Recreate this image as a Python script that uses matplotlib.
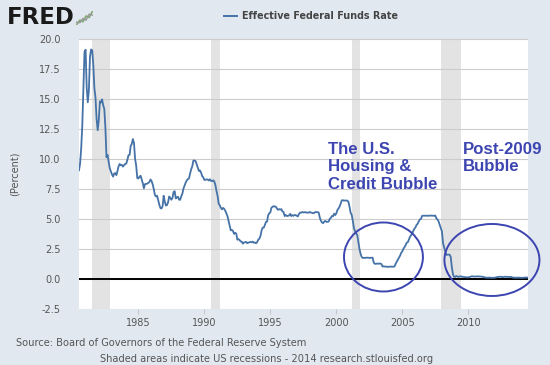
import numpy as np
import matplotlib
matplotlib.use("Agg")
import matplotlib.pyplot as plt
from matplotlib.patches import Ellipse

# Effective Federal Funds Rate, monthly, Jul 1980 - Jul 2014 (percent)
rate_1980 = [9.03, 9.61, 10.87, 12.81, 15.85, 18.90]
rate_1981 = [19.08, 15.93, 14.70, 15.72, 18.52, 19.10, 19.04, 17.82, 15.87, 15.08, 13.31, 12.37]
rate_1982 = [13.22, 14.78, 14.68, 14.94, 14.45, 14.15, 12.59, 10.12, 10.31, 9.71, 9.20, 8.95]
rate_1983 = [8.68, 8.51, 8.77, 8.80, 8.63, 8.98, 9.37, 9.56, 9.45, 9.48, 9.34, 9.47]
rate_1984 = [9.56, 9.59, 9.91, 10.29, 10.32, 11.06, 11.23, 11.64, 11.30, 9.99, 9.43, 8.38]
rate_1985 = [8.35, 8.50, 8.58, 8.27, 7.97, 7.53, 7.88, 7.90, 7.92, 7.99, 8.05, 8.27]
rate_1986 = [8.14, 7.86, 7.48, 6.99, 6.85, 6.92, 6.56, 6.17, 5.89, 5.85, 6.04, 6.91]
rate_1987 = [6.43, 6.10, 6.13, 6.37, 6.85, 6.73, 6.58, 6.73, 7.22, 7.29, 6.69, 6.77]
rate_1988 = [6.83, 6.58, 6.58, 6.87, 7.09, 7.51, 7.75, 8.01, 8.19, 8.30, 8.35, 8.76]
rate_1989 = [9.12, 9.36, 9.85, 9.84, 9.81, 9.53, 9.24, 8.99, 9.02, 8.84, 8.55, 8.45]
rate_1990 = [8.23, 8.24, 8.28, 8.26, 8.18, 8.29, 8.15, 8.13, 8.20, 8.11, 7.81, 7.31]
rate_1991 = [6.91, 6.25, 6.12, 5.91, 5.78, 5.90, 5.82, 5.66, 5.45, 5.21, 4.81, 4.43]
rate_1992 = [4.03, 4.06, 3.98, 3.73, 3.82, 3.76, 3.25, 3.30, 3.22, 3.10, 3.09, 2.92]
rate_1993 = [3.02, 3.03, 3.07, 2.96, 3.00, 3.04, 3.06, 3.03, 3.09, 2.99, 3.02, 2.96]
rate_1994 = [3.05, 3.25, 3.34, 3.56, 4.01, 4.25, 4.26, 4.47, 4.73, 4.76, 5.29, 5.45]
rate_1995 = [5.53, 5.92, 5.98, 6.05, 6.01, 6.00, 5.85, 5.74, 5.80, 5.76, 5.80, 5.60]
rate_1996 = [5.56, 5.22, 5.31, 5.22, 5.24, 5.27, 5.40, 5.22, 5.30, 5.24, 5.31, 5.29]
rate_1997 = [5.25, 5.19, 5.39, 5.51, 5.50, 5.56, 5.52, 5.54, 5.54, 5.50, 5.52, 5.50]
rate_1998 = [5.56, 5.51, 5.49, 5.45, 5.49, 5.56, 5.54, 5.55, 5.51, 5.07, 4.83, 4.68]
rate_1999 = [4.63, 4.76, 4.81, 4.74, 4.74, 4.76, 4.99, 5.07, 5.22, 5.20, 5.42, 5.30]
rate_2000 = [5.45, 5.73, 5.85, 6.02, 6.27, 6.53, 6.54, 6.50, 6.52, 6.51, 6.51, 6.40]
rate_2001 = [5.98, 5.49, 5.31, 4.80, 4.21, 3.97, 3.77, 3.65, 3.07, 2.49, 2.09, 1.82]
rate_2002 = [1.73, 1.74, 1.73, 1.75, 1.75, 1.75, 1.73, 1.74, 1.75, 1.75, 1.34, 1.24]
rate_2003 = [1.24, 1.26, 1.25, 1.26, 1.26, 1.22, 1.01, 1.03, 1.01, 1.01, 1.00, 0.98]
rate_2004 = [1.00, 1.01, 1.00, 1.00, 1.00, 1.03, 1.26, 1.43, 1.61, 1.76, 1.93, 2.16]
rate_2005 = [2.28, 2.50, 2.63, 2.79, 3.00, 3.04, 3.26, 3.50, 3.62, 3.78, 4.00, 4.16]
rate_2006 = [4.29, 4.49, 4.59, 4.79, 4.94, 4.99, 5.24, 5.25, 5.25, 5.25, 5.25, 5.24]
rate_2007 = [5.25, 5.26, 5.26, 5.25, 5.25, 5.25, 5.26, 5.02, 4.94, 4.76, 4.49, 4.24]
rate_2008 = [3.94, 2.98, 2.61, 2.28, 1.98, 2.00, 2.01, 2.00, 1.81, 0.97, 0.39, 0.16]
rate_2009 = [0.15, 0.22, 0.18, 0.15, 0.18, 0.21, 0.16, 0.16, 0.15, 0.12, 0.12, 0.12]
rate_2010 = [0.11, 0.13, 0.16, 0.20, 0.20, 0.18, 0.18, 0.19, 0.19, 0.19, 0.19, 0.18]
rate_2011 = [0.17, 0.16, 0.14, 0.10, 0.09, 0.09, 0.07, 0.10, 0.08, 0.07, 0.08, 0.07]
rate_2012 = [0.08, 0.10, 0.13, 0.14, 0.16, 0.16, 0.16, 0.13, 0.14, 0.16, 0.16, 0.16]
rate_2013 = [0.14, 0.15, 0.14, 0.15, 0.11, 0.09, 0.09, 0.08, 0.08, 0.09, 0.08, 0.09]
rate_2014 = [0.07, 0.07, 0.08, 0.09, 0.09, 0.10, 0.09]

rate = np.array(rate_1980 + rate_1981 + rate_1982 + rate_1983 + rate_1984 + rate_1985
                + rate_1986 + rate_1987 + rate_1988 + rate_1989 + rate_1990 + rate_1991
                + rate_1992 + rate_1993 + rate_1994 + rate_1995 + rate_1996 + rate_1997
                + rate_1998 + rate_1999 + rate_2000 + rate_2001 + rate_2002 + rate_2003
                + rate_2004 + rate_2005 + rate_2006 + rate_2007 + rate_2008 + rate_2009
                + rate_2010 + rate_2011 + rate_2012 + rate_2013 + rate_2014)
first_month = 1980 + 6 / 12
years = first_month + np.arange(len(rate)) / 12

# NBER recessions (decimal years)
recession_start = [1981.5, 1990.5, 2001.17, 2007.92]
recession_end = [1982.83, 1991.17, 2001.83, 2009.42]

year_ticks = [1985, 1990, 1995, 2000, 2005, 2010]
y_ticks = [-2.5, 0.0, 2.5, 5.0, 7.5, 10.0, 12.5, 15.0, 17.5, 20.0]

bg = "#e1e8f0"
line_col = "#4572a7"
note_col = "#3c45b0"
txt_col = "#555555"

W, H = 550, 365
fig = plt.figure(figsize=(5.5, 3.65), dpi=100, facecolor=bg)
ax = fig.add_axes([79 / W, 1 - 308.7 / H, (527.7 - 79) / W, (308.7 - 38.7) / H])
ax.set_facecolor("white")

for s, e in zip(recession_start, recession_end):
    ax.axvspan(s, e, color="#e3e3e3", lw=0, zorder=0)

for yt in y_ticks:
    ax.axhline(yt, color="#cccccc", lw=0.8, zorder=1)
ax.axhline(0, color="black", lw=1.4, zorder=2)

ax.plot(years, rate, color=line_col, lw=1.3, zorder=3)

ax.set_xlim(years[0], years[-1])
ax.set_ylim(-2.5, 20)
ax.set_xticks(year_ticks)
ax.set_xticklabels([str(y) for y in year_ticks])
ax.set_yticks(y_ticks)
ax.set_yticklabels(["%.1f" % v for v in y_ticks])
for sp in ax.spines.values():
    sp.set_visible(False)
ax.tick_params(axis="y", length=0, pad=13.5, labelsize=7, labelcolor=txt_col)
ax.tick_params(axis="x", length=3.5, color="#c8c8c8", pad=3, labelsize=7, labelcolor=txt_col)
ax.set_ylabel("(Percent)", fontsize=7, color=txt_col, labelpad=14)

# circled regions
for cx, cy, w, h in [(2003.57, 1.81, 5.98, 5.75), (2011.79, 1.56, 7.2, 6.0)]:
    ax.add_patch(Ellipse((cx, cy), w, h, fill=False, ec=note_col, lw=1.4,
                         clip_on=False, zorder=5))

fig.text(328 / W, 1 - 142 / H, "The U.S.\nHousing &\nCredit Bubble", ha="left", va="top",
         fontsize=12.1, fontweight="bold", color=note_col, family="Liberation Sans",
         linespacing=1.19)
fig.text(462.7 / W, 1 - 142 / H, "Post-2009\nBubble", ha="left", va="top",
         fontsize=12.1, fontweight="bold", color=note_col, family="Liberation Sans",
         linespacing=1.19)

# header
fig.text(7 / W, 1 - 18 / H, "FRED", ha="left", va="center", fontsize=16.5,
         fontweight="bold", color="#1a1a1a", family="DejaVu Sans")
icon = fig.add_axes([76 / W, 1 - 25 / H, 17 / W, 14 / H])
icon.set_axis_off()
icon.plot([0, 1, 2, 3, 4, 5], [0, 1, 0.6, 2, 1.6, 3], color="#7aa66a", lw=1.1)
icon.plot([0, 1, 2, 3, 4, 5], [0.5, 0.4, 1.4, 1.0, 2.4, 2.2], color="#9a9a9a", lw=1.1)

fig.lines.append(plt.Line2D([224 / W, 237 / W], [1 - 15.7 / H] * 2, color=line_col,
                            lw=1.4, transform=fig.transFigure))
fig.text(241.7 / W, 1 - 15.7 / H, "Effective Federal Funds Rate", ha="left", va="center",
         fontsize=6.9, fontweight="bold", color="#444444")

fig.text(16.5 / W, 1 - 343 / H, "Source: Board of Governors of the Federal Reserve System",
         ha="left", va="center", fontsize=7.1, color=txt_col)
fig.text(100 / W, 1 - 358.5 / H, "Shaded areas indicate US recessions - 2014 research.stlouisfed.org",
         ha="left", va="center", fontsize=7.1, color=txt_col)

fig.savefig("out.png", dpi=100, facecolor=bg)
